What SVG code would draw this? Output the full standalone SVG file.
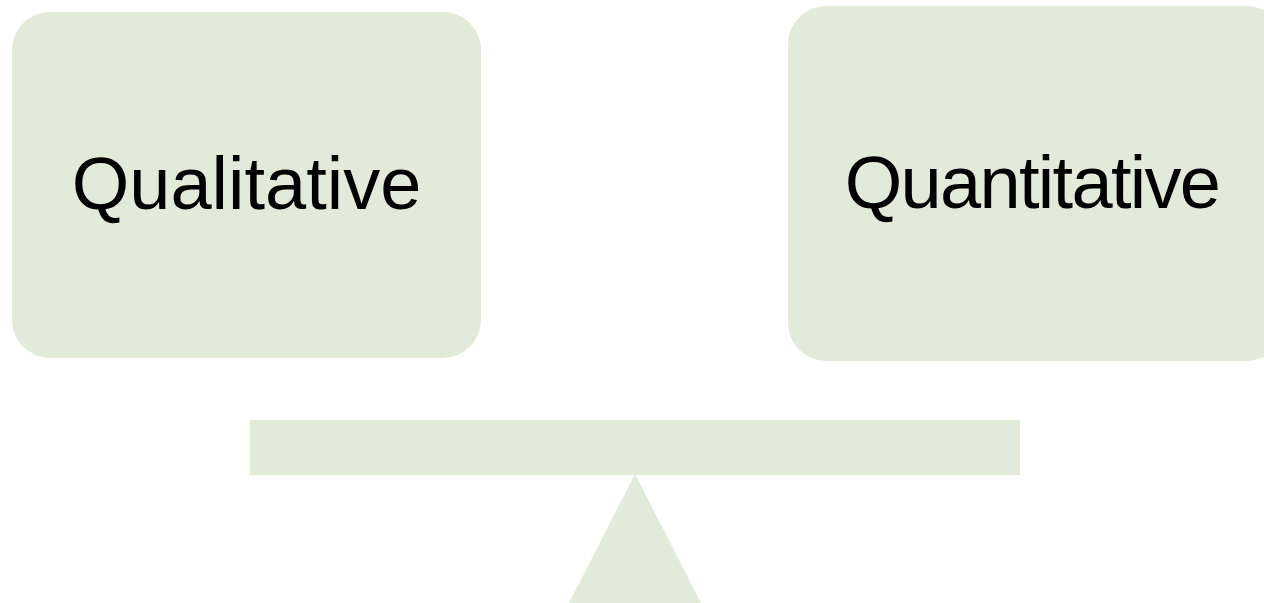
<svg xmlns="http://www.w3.org/2000/svg" width="1264" height="603" viewBox="0 0 1264 603">
<style>
.shape{fill:#e2ebda;stroke:none}
.lbl{font-family:"Liberation Sans",Arial,sans-serif;font-size:74px;fill:#000;text-anchor:middle}
</style>
<rect width="1264" height="603" fill="#ffffff"/>
<g id="qualitative">
<rect class="shape" x="12" y="12" width="469" height="346" rx="38" ry="38"/>
<text class="lbl" x="246.5" y="209">Qualitative</text>
</g>
<g id="quantitative">
<rect class="shape" x="788" y="6" width="497" height="355" rx="38" ry="38"/>
<text class="lbl" x="1032" y="208" letter-spacing="-1.7">Quantitative</text>
</g>
<g id="plank">
<rect class="shape" x="250" y="420" width="770" height="55"/>
</g>
<g id="fulcrum">
<polygon class="shape" points="635,474 701,603 569,603"/>
</g>
<g id="connectors"></g>
</svg>
